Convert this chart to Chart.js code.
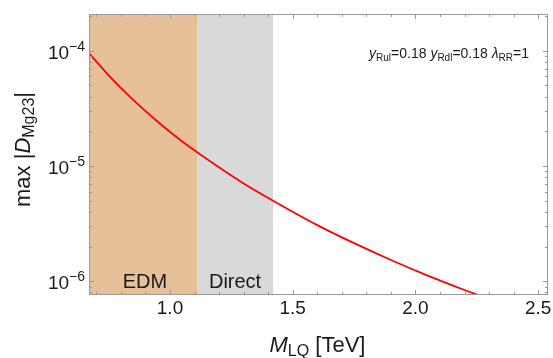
<!DOCTYPE html>
<html>
<head>
<meta charset="utf-8">
<script src="https://cdn.jsdelivr.net/npm/chart.js@4.4.1/dist/chart.umd.min.js"></script>
<style>
  html, body { margin: 0; padding: 0; background: #fff; }
  #wrap { width: 553px; height: 358px; }
</style>
</head>
<body>
<div id="wrap"><canvas id="lq-chart" width="553" height="358"></canvas></div>
<script>
// values
var massLQ = [0.67, 0.75, 0.85, 0.95, 1.05, 1.15, 1.30, 1.42, 1.60, 1.75, 1.90, 2.05, 2.20, 2.30];
var maxDMg23 = [9.5e-5, 6.11e-5, 3.74e-5, 2.42e-5, 1.63e-5, 1.15e-5, 7.06e-6, 5.0e-6, 3.07e-6, 2.14e-6, 1.53e-6, 1.12e-6, 8.4e-7, 7.0e-7];
var xRange = [0.67, 2.54];
var yRange = [7.6e-7, 2.08e-4];
var xTickLabels = [1.0, 1.5, 2.0, 2.5];
var yTickExps = [-6, -5, -4];
var edmBand = [0.67, 1.11];
var directBand = [1.11, 1.42];

var FONT = '"Liberation Sans", Arial, sans-serif';

function setFont(ctx, size, italic) {
    ctx.font = (italic ? 'italic ' : '') + size + 'px ' + FONT;
}

// segments: {t, size, italic, dy}
function richWidth(ctx, segs) {
    var w = 0;
    segs.forEach(function (s) {
        setFont(ctx, s.size, s.italic);
        w += ctx.measureText(s.t).width;
    });
    return w;
}

function drawRich(ctx, segs, x, y, align) {
    var w = richWidth(ctx, segs);
    var cx = x;
    if (align === 'center') cx = x - w / 2;
    if (align === 'right') cx = x - w;
    ctx.textAlign = 'left';
    ctx.textBaseline = 'alphabetic';
    segs.forEach(function (s) {
        setFont(ctx, s.size, s.italic);
        ctx.fillText(s.t, cx, y + (s.dy || 0));
        cx += ctx.measureText(s.t).width;
    });
}

var decorPlugin = {
    id: 'decor',
    beforeDatasetsDraw: function (chart) {
        var ctx = chart.ctx, a = chart.chartArea, xs = chart.scales.x;
        ctx.save();
        var x0 = Math.max(xs.getPixelForValue(edmBand[0]), a.left);
        var x1 = xs.getPixelForValue(edmBand[1]);
        var x2 = xs.getPixelForValue(directBand[1]);
        ctx.fillStyle = 'rgb(229,192,152)';
        ctx.fillRect(x0, a.top, x1 - x0, a.bottom - a.top);
        ctx.fillStyle = 'rgb(217,217,217)';
        ctx.fillRect(x1, a.top, x2 - x1, a.bottom - a.top);
        ctx.fillStyle = '#1a1a1a';
        drawRich(ctx, [{t: 'EDM', size: 20}], (x0 + x1) / 2 + 2, a.bottom - 7, 'center');
        drawRich(ctx, [{t: 'Direct', size: 20}], (x1 + x2) / 2, a.bottom - 7, 'center');
        ctx.restore();
    },
    afterDraw: function (chart) {
        var ctx = chart.ctx, a = chart.chartArea, xs = chart.scales.x, ys = chart.scales.y;
        ctx.save();
        ctx.strokeStyle = '#999';
        ctx.lineWidth = 1;
        ctx.strokeRect(a.left + 0.5, a.top + 0.5, a.right - a.left - 1, a.bottom - a.top - 1);

        // x ticks, top and bottom, every 0.1
        ctx.beginPath();
        for (var k = 7; k <= 25; k++) {
            var px = Math.round(xs.getPixelForValue(k / 10)) + 0.5;
            var len = (k % 5 === 0) ? 5 : 3;
            ctx.moveTo(px, a.bottom); ctx.lineTo(px, a.bottom - len);
            ctx.moveTo(px, a.top); ctx.lineTo(px, a.top + len);
        }
        // y ticks, left and right, log minor
        for (var e = -7; e <= -4; e++) {
            for (var m = 1; m <= 9; m++) {
                var val = m * Math.pow(10, e);
                if (val < yRange[0] || val > yRange[1]) continue;
                var py = Math.round(ys.getPixelForValue(val)) + 0.5;
                var l = (m === 1) ? 5 : 3;
                ctx.moveTo(a.left, py); ctx.lineTo(a.left + l, py);
                ctx.moveTo(a.right, py); ctx.lineTo(a.right - l, py);
            }
        }
        ctx.stroke();

        ctx.fillStyle = '#1a1a1a';
        // x tick labels
        xTickLabels.forEach(function (v) {
            drawRich(ctx, [{t: v.toFixed(1), size: 19}], xs.getPixelForValue(v), a.bottom + 19, 'center');
        });
        // y tick labels 10^n
        yTickExps.forEach(function (n) {
            var py = ys.getPixelForValue(Math.pow(10, n));
            drawRich(ctx, [{t: '10', size: 19}, {t: '\u2212' + Math.abs(n), size: 14, dy: -8}], a.left - 4, py + 8, 'right');
        });

        // x title
        drawRich(ctx, [{t: 'M', size: 22, italic: true}, {t: 'LQ', size: 16, dy: 4}, {t: ' [TeV]', size: 22}],
            (a.left + a.right) / 2 - 1, 352, 'center');

        // y title
        ctx.save();
        ctx.translate(30, (a.top + a.bottom) / 2 - 5);
        ctx.rotate(-Math.PI / 2);
        drawRich(ctx, [{t: 'max |', size: 22}, {t: 'D', size: 22, italic: true}, {t: 'Mg23', size: 16, dy: 4}, {t: '|', size: 22}],
            0, 0, 'center');
        ctx.restore();

        // parameter note
        drawRich(ctx, [
            {t: 'y', size: 14, italic: true}, {t: 'Rul', size: 10, dy: 3}, {t: '=0.18 ', size: 14},
            {t: 'y', size: 14, italic: true}, {t: 'Rdl', size: 10, dy: 3}, {t: '=0.18 ', size: 14},
            {t: '\u03bb', size: 14, italic: true}, {t: 'RR', size: 10, dy: 3}, {t: '=1', size: 14}
        ], a.right - 19, 58, 'right');
        ctx.restore();
    }
};

var points = massLQ.map(function (m, i) { return {x: m, y: maxDMg23[i]}; });

var config = {
    type: 'line',
    data: {
        datasets: [{
            data: points,
            borderColor: 'rgb(255,0,0)',
            borderWidth: 1.8,
            pointRadius: 0,
            fill: false,
            cubicInterpolationMode: 'monotone'
        }]
    },
    options: {
        responsive: false,
        animation: false,
        layout: {padding: {left: 89, right: 5, top: 14, bottom: 63}},
        plugins: {legend: {display: false}, tooltip: {enabled: false}},
        scales: {
            x: {type: 'linear', min: xRange[0], max: xRange[1], display: false},
            y: {type: 'logarithmic', min: yRange[0], max: yRange[1], display: false}
        }
    },
    plugins: [decorPlugin]
};

var myChart = new Chart(document.getElementById('lq-chart').getContext('2d'), config);
</script>
</body>
</html>
